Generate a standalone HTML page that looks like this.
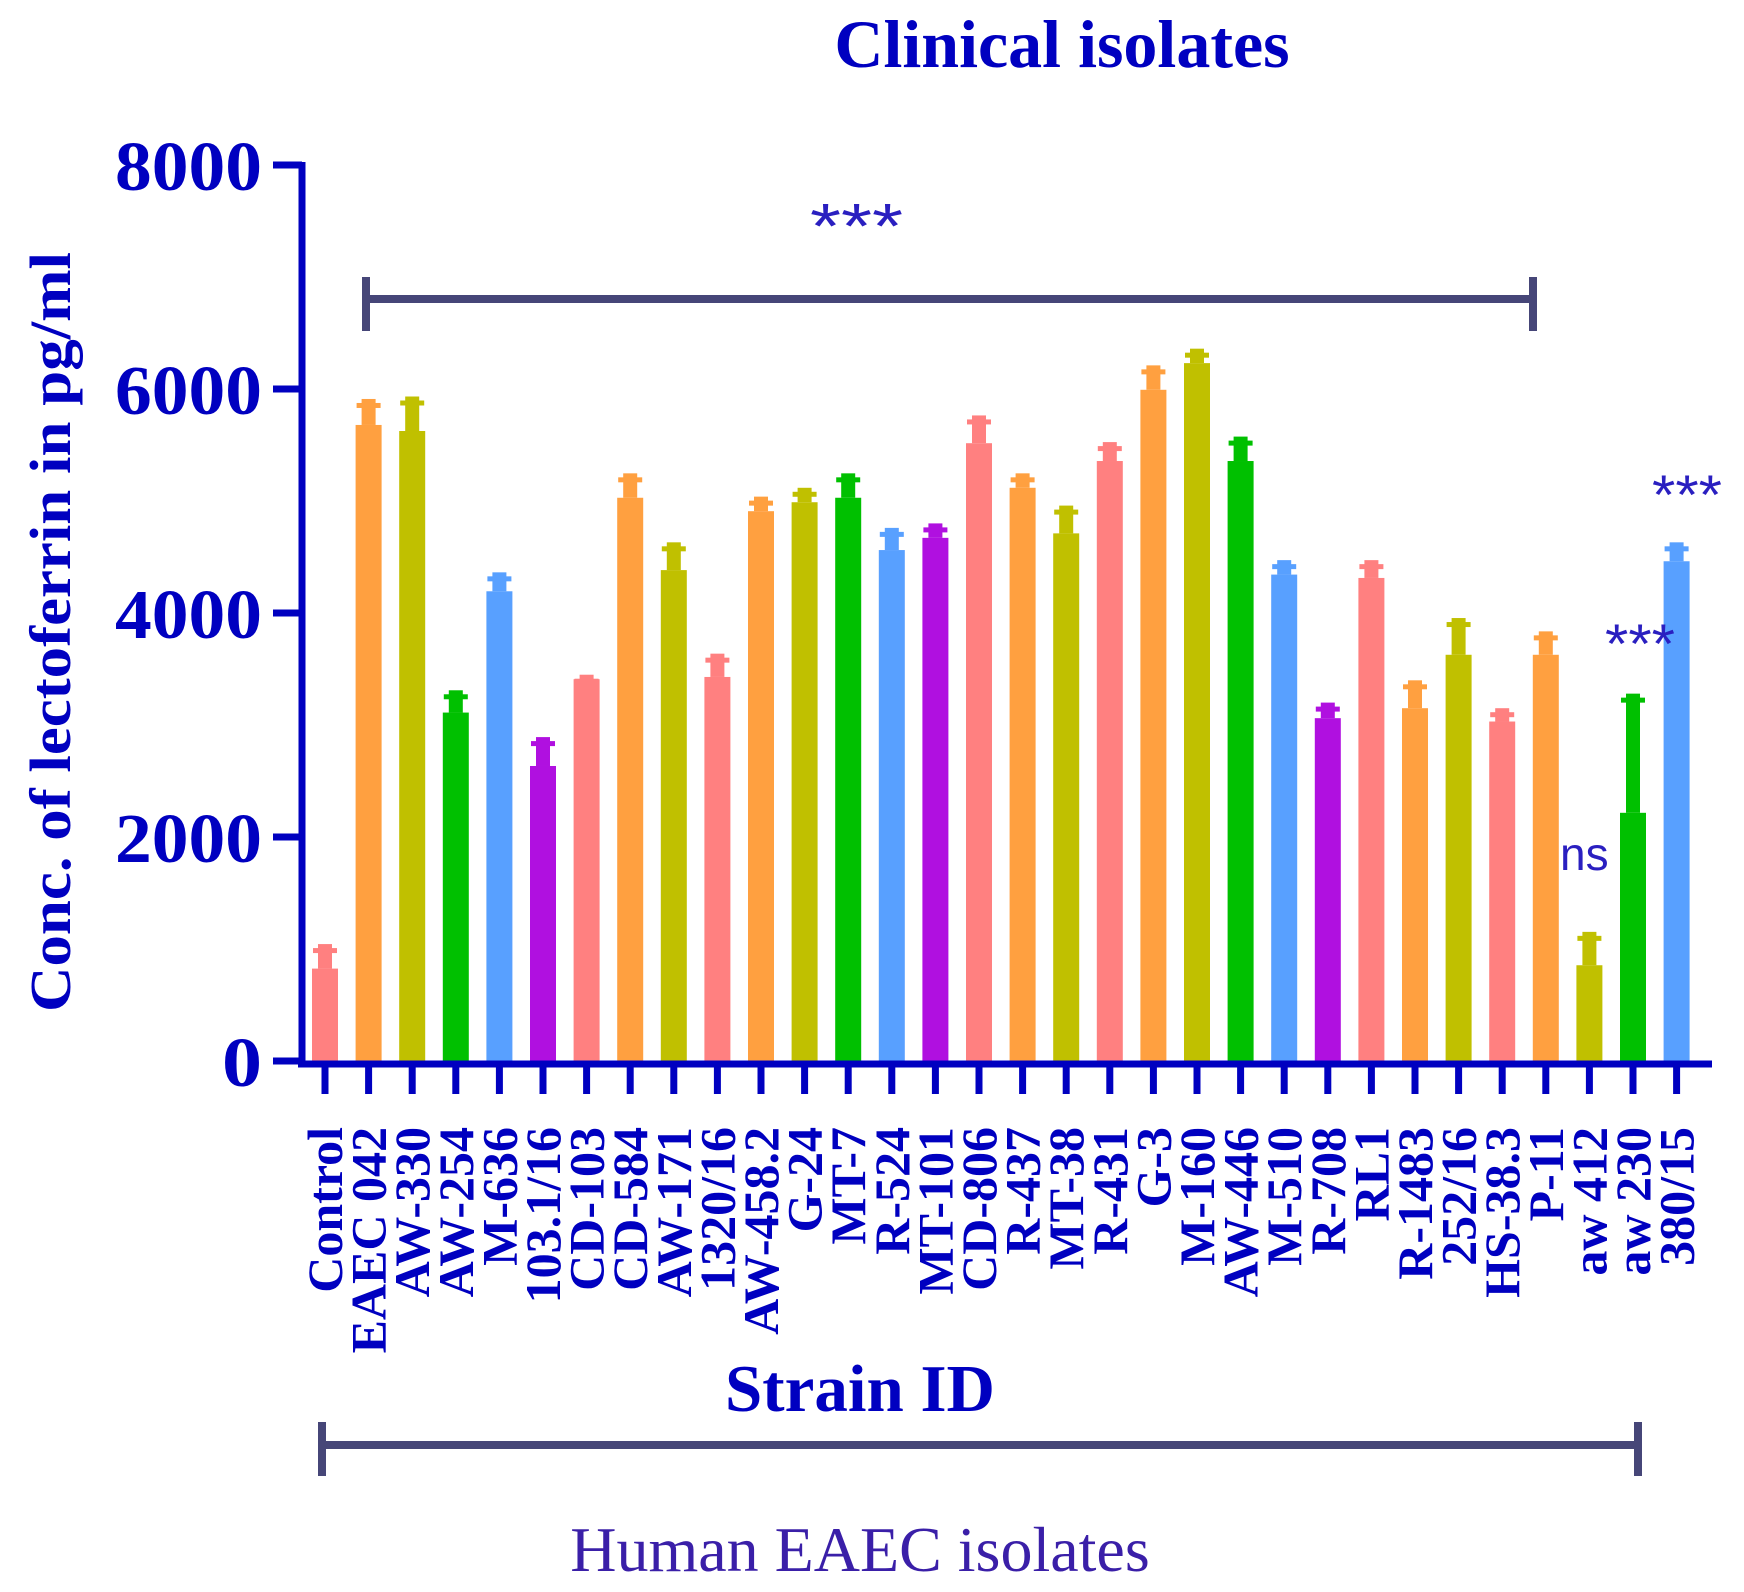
<!DOCTYPE html>
<html><head><meta charset="utf-8"><style>html,body{margin:0;padding:0;background:#fff}svg{display:block}</style></head>
<body>
<svg xmlns="http://www.w3.org/2000/svg" width="1744" height="1592" viewBox="0 0 1744 1592">
<g id="bars"></g>
<g font-family="Liberation Serif, serif" font-weight="bold" fill="#0000c0">
<text x="1062" y="67" text-anchor="middle" font-size="68">Clinical isolates</text>
<text x="262" y="190" text-anchor="end" font-size="70" textLength="147" lengthAdjust="spacingAndGlyphs">8000</text>
<text x="262" y="414" text-anchor="end" font-size="70" textLength="147" lengthAdjust="spacingAndGlyphs">6000</text>
<text x="262" y="638" text-anchor="end" font-size="70" textLength="147" lengthAdjust="spacingAndGlyphs">4000</text>
<text x="262" y="862" text-anchor="end" font-size="70" textLength="147" lengthAdjust="spacingAndGlyphs">2000</text>
<text x="262" y="1086" text-anchor="end" font-size="70" textLength="40" lengthAdjust="spacingAndGlyphs">0</text>
<text transform="translate(70,632) rotate(-90)" text-anchor="middle" font-size="58" textLength="760" lengthAdjust="spacingAndGlyphs">Conc. of lectoferrin in pg/ml</text>
<text x="860" y="1411" text-anchor="middle" font-size="67">Strain ID</text>
</g>
<text x="860" y="1571" text-anchor="middle" font-family="Liberation Serif, serif" font-size="64" fill="#3a1fa8">Human EAEC isolates</text>
<g stroke="#0000c0" stroke-width="7" fill="none">
<line x1="302" y1="162" x2="302" y2="1064"/>
<line x1="298" y1="1064" x2="1712" y2="1064"/>
<line x1="273" y1="165" x2="302" y2="165"/>
<line x1="273" y1="389" x2="302" y2="389"/>
<line x1="273" y1="613" x2="302" y2="613"/>
<line x1="273" y1="837" x2="302" y2="837"/>
<line x1="273" y1="1061" x2="302" y2="1061"/>
</g>
<g id="ticks" stroke="#0000c0" stroke-width="7"></g>
<g id="labels" font-family="Liberation Serif, serif" font-weight="bold" font-size="50" fill="#0000c0"></g>
<g stroke="#464678" stroke-width="8" fill="none">
<line x1="366" y1="299" x2="1533" y2="299"/>
<line x1="366" y1="277" x2="366" y2="331"/>
<line x1="1533" y1="277" x2="1533" y2="331"/>
<line x1="322" y1="1445" x2="1638" y2="1445"/>
<line x1="322" y1="1422" x2="322" y2="1476"/>
<line x1="1638" y1="1422" x2="1638" y2="1476"/>
</g>
<g font-family="Liberation Sans, sans-serif" fill="#2a1fc0">
<text x="810" y="248" font-size="64" textLength="93" lengthAdjust="spacingAndGlyphs">***</text>
<text x="1652" y="514" font-size="56" textLength="70" lengthAdjust="spacingAndGlyphs">***</text>
<text x="1605" y="663" font-size="56" textLength="70" lengthAdjust="spacingAndGlyphs">***</text>
<text x="1560" y="870" font-size="46">ns</text>
</g>
<script>
var vals=[[825,1044],[5679,5911],[5625,5933],[3111,3310],[4194,4363],[2634,2892],[3409,3449],[5029,5247],[4383,4631],[3429,3637],[4909,5039],[4989,5118],[5029,5247],[4562,4760],[4671,4800],[5516,5764],[5118,5247],[4711,4959],[5357,5526],[5993,6211],[6231,6360],[5357,5575],[4343,4472],[3061,3200],[4313,4472],[3150,3399],[3627,3955],[3031,3150],[3627,3836],[855,1153],[2216,3280],[4462,4631]];
var P="#ff8080",O="#ffa040",L="#c0c000",G="#00c000",B="#58a0ff",U="#b010e0";
var cols=[P,O,L,G,B,U,P,O,L,P,O,L,G,B,U,P,O,L,P,O,L,G,B,U,P,O,L,P,O,L,G,B];
var names=["Control","EAEC 042","AW-330","AW-254","M-636","103.1/16","CD-103","CD-584","AW-171","1320/16","AW-458.2","G-24","MT-7","R-524","MT-101","CD-806","R-437","MT-38","R-431","G-3","M-160","AW-446","M-510","R-708","RL1","R-1483","252/16","HS-38.3","P-11","aw 412","aw 230","380/15"];
var NS="http://www.w3.org/2000/svg";
function y(v){return 1061-v/2000*224;}
function el(t,a,p){var e=document.createElementNS(NS,t);for(var k in a)e.setAttribute(k,a[k]);p.appendChild(e);return e;}
var gb=document.getElementById("bars"),gt=document.getElementById("ticks"),gl=document.getElementById("labels");
for(var i=0;i<32;i++){
 var c=325+i*43.6,m=y(vals[i][0]),e=y(vals[i][1]);
 el("rect",{x:c-13,y:m,width:26,height:1061-m,fill:cols[i]},gb);
 el("rect",{x:c-7,y:e,width:14,height:m-e,fill:cols[i]},gb);
 el("rect",{x:c-12,y:e+4,width:24,height:5,fill:cols[i]},gb);
 el("line",{x1:c,y1:1064,x2:c,y2:1094},gt);
 var t=el("text",{transform:"translate("+(c+17)+",1127) rotate(-90)","text-anchor":"end"},gl);
 t.textContent=names[i];
}
</script>
</svg>
</body></html>
